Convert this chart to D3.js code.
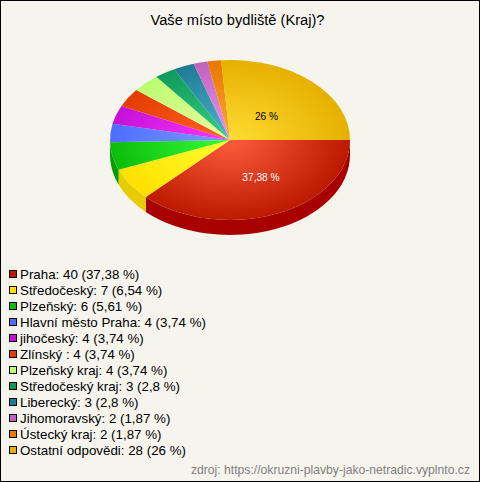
<!DOCTYPE html>
<html><head><meta charset="utf-8">
<script src="https://d3js.org/d3.v7.min.js"></script>
<style>
html,body{margin:0;padding:0;background:#f5f5ed}
svg{display:block}
text{font-family:"Liberation Sans",Arial,sans-serif}
</style></head><body><div id="chart"></div>
<script>
const categories=["Praha","Středočeský","Plzeňský","Hlavní město Praha","jihočeský","Zlínský ","Plzeňský kraj","Středočeský kraj","Liberecký","Jihomoravský","Ústecký kraj","Ostatní odpovědi"];
const values=[40,7,6,4,4,4,4,3,3,2,2,28];
const percentLabels=["37,38","6,54","5,61","3,74","3,74","3,74","3,74","2,8","2,8","1,87","1,87","26"];
const edgeColors=["#bb1a00","#ffe000","#0cbc0c","#4d6eff","#c410d8","#e43c00","#bcfc70","#0e995c","#1f7a96","#c062c0","#e87800","#e6b000"];
const centerColors=["#ff5c3e","#ffff2e","#36ff36","#7c9cff","#ff38ff","#ff6424","#e8ffa0","#36d080","#50b4cc","#ec96ec","#ffa82e","#ffdc34"];
const wallColors=["#a80000","#e6cc00","#00a000","#3050d0","#a000b0","#c02000","#a0d050","#008040","#006080","#a040a0","#c06000","#c09000"];
const title="Vaše místo bydliště (Kraj)?";
const source="zdroj: https://okruzni-plavby-jako-netradic.vyplnto.cz";
const shownLabels=[0,11];

const W=480,H=482,cx=230,cy=140,rx=120,ry=80,depth=15;
const yScale=ry/rx;
const svg=d3.select("#chart").append("svg").attr("width",W).attr("height",H);
svg.append("rect").attr("x",.5).attr("y",.5).attr("width",W-1).attr("height",H-1).attr("fill","#f5f5ed").attr("stroke","#000");
svg.append("text").attr("x",237.5).attr("y",25).attr("text-anchor","middle").attr("font-size",14.67).attr("fill","#000").text(title);

const pie=d3.pie().sort(null).startAngle(Math.PI/2).endAngle(Math.PI*2.5)(values);
const defs=svg.append("defs");
pie.forEach((d,i)=>{
  const g=defs.append("radialGradient").attr("id","g"+i).attr("gradientUnits","userSpaceOnUse").attr("cx",0).attr("cy",0).attr("r",rx);
  g.append("stop").attr("offset","0").attr("stop-color",centerColors[i]);
  g.append("stop").attr("offset","1").attr("stop-color",edgeColors[i]);
});
const pieG=svg.append("g").attr("transform",`translate(${cx},${cy}) scale(1,${yScale})`);
const dScaled=depth/yScale;
pie.forEach((d,i)=>{
  const a0=d.startAngle-Math.PI/2,a1=Math.min(d.endAngle-Math.PI/2,Math.PI);
  if(a0>=Math.PI)return;
  const p=d3.path();
  p.arc(0,0,rx,a0,a1,false);
  p.lineTo(rx*Math.cos(a1),rx*Math.sin(a1)+dScaled);
  p.arc(0,dScaled,rx,a1,a0,true);
  p.closePath();
  pieG.append("path").attr("d",p.toString()).attr("fill",wallColors[i]);
});
const arc=d3.arc().innerRadius(0).outerRadius(rx);
pieG.selectAll("path.s").data(pie).join("path").attr("class","s")
  .attr("d",arc).attr("fill",(d,i)=>`url(#g${i})`);

const lblOff=[[31,41],[36.5,-20]];
shownLabels.forEach((idx,k)=>{
  svg.append("text").attr("x",cx+lblOff[k][0]).attr("y",cy+lblOff[k][1]).attr("text-anchor","middle")
    .attr("font-size",10.2).attr("fill",idx===0?"#fff":"#000").text(percentLabels[idx]+" %");
});

const legend=svg.append("g");
const ly=d3.scalePoint().domain(d3.range(values.length)).range([274,450]);
categories.forEach((c,i)=>{
  const y=ly(i);
  legend.append("rect").attr("x",9.5).attr("y",y-3.5).attr("width",7).attr("height",7).attr("fill",edgeColors[i]).attr("stroke","#000");
  legend.append("text").attr("x",20).attr("y",y+5).attr("font-size",13.33).attr("fill","#000").text(`${c}: ${values[i]} (${percentLabels[i]} %)`);
});
svg.append("text").attr("x",470).attr("y",474).attr("text-anchor","end").attr("font-size",12.17).attr("fill","#808080").text(source);
</script></body></html>
